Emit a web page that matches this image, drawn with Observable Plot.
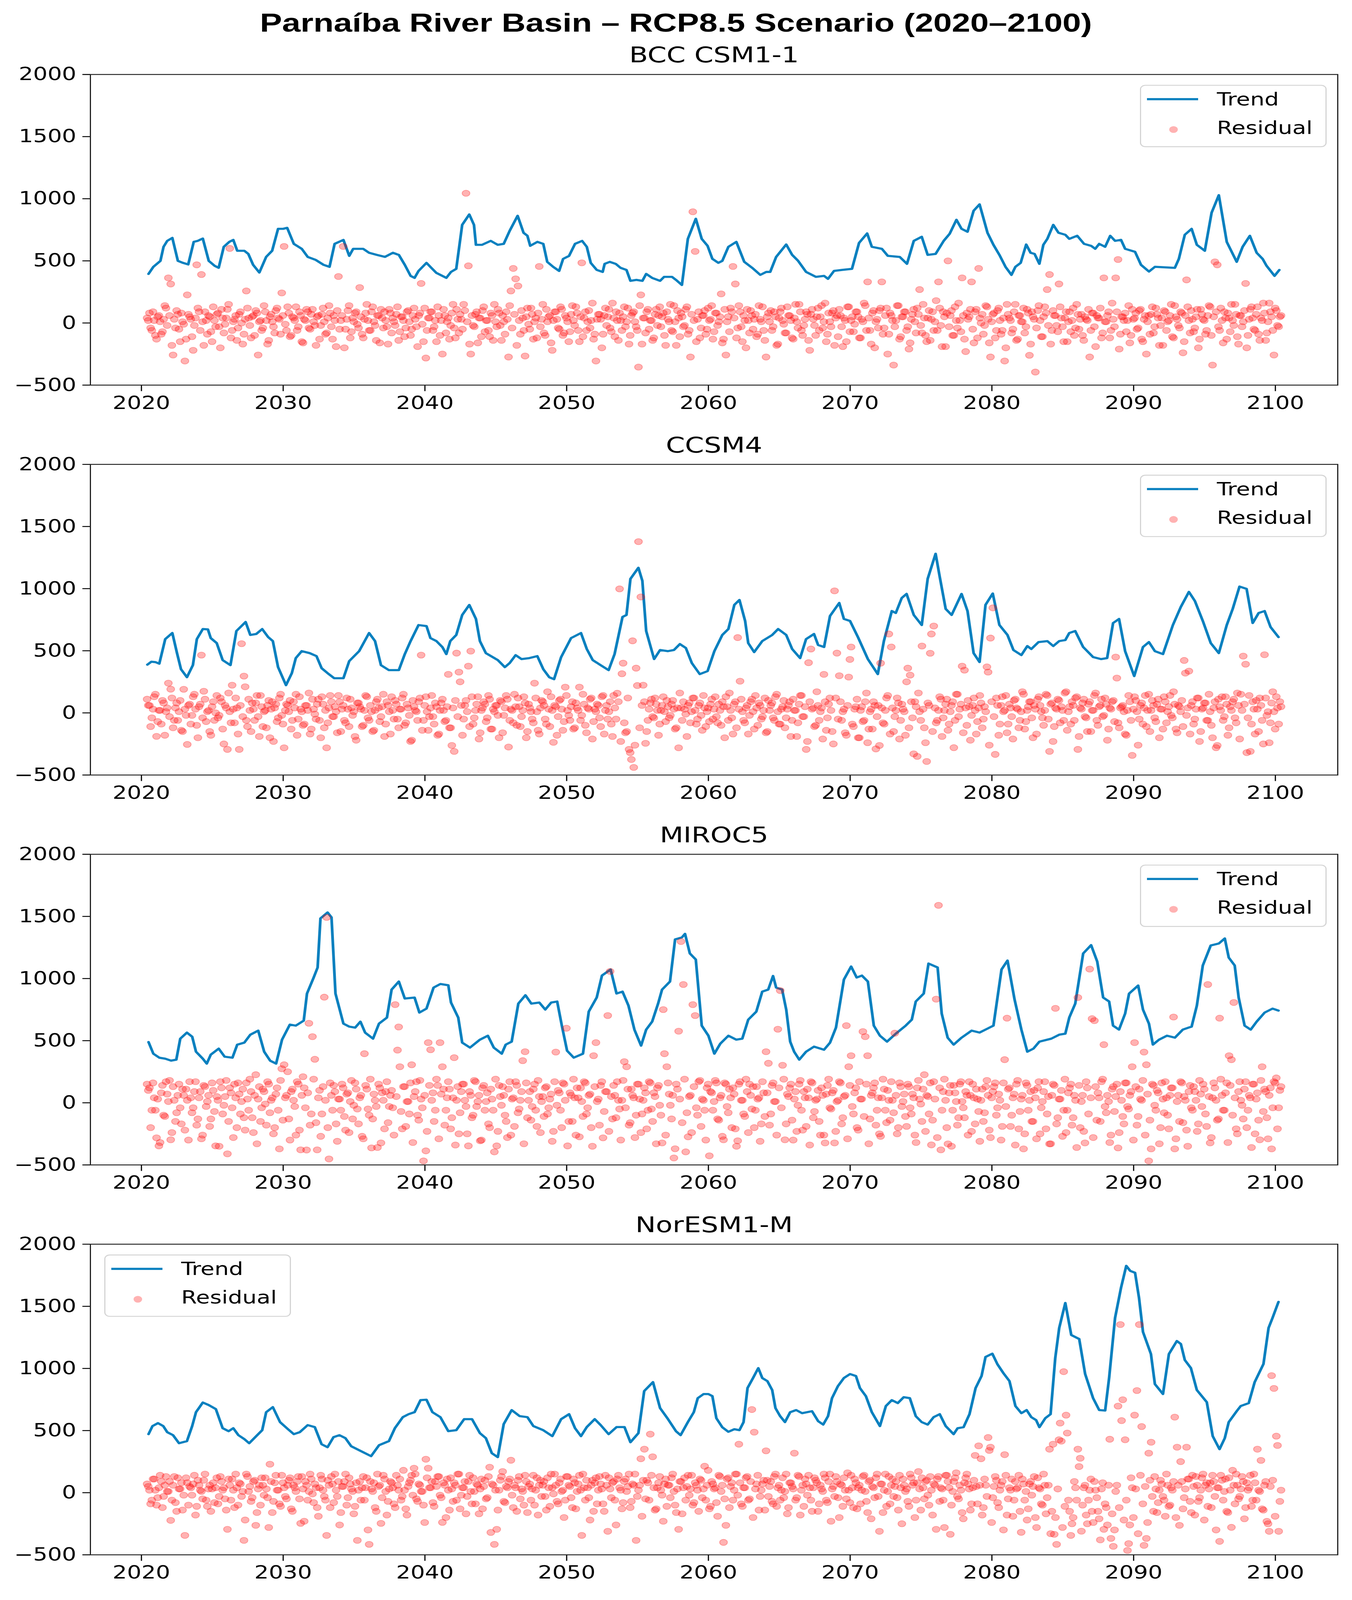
<!DOCTYPE html>
<html><head><meta charset="utf-8">
<script src="https://cdn.jsdelivr.net/npm/d3@7"></script>
<script src="https://cdn.jsdelivr.net/npm/@observablehq/plot@0.6"></script>
<style>
html,body{margin:0;padding:0;background:#fff;overflow:hidden;}
#page{width:3462px;height:5187px;transform-origin:0 0;background:#fff;}
#title{height:131px;box-sizing:border-box;padding-top:28px;text-align:center;font-weight:bold;font-size:85px;font-family:"Liberation Sans",Arial,sans-serif;line-height:90px;color:#000;white-space:nowrap;}
.panel{position:relative;width:3462px;height:1264px;overflow:hidden;}
.panel svg{display:block;max-width:none;}
.legend{position:absolute;width:478px;height:202px;box-sizing:border-box;border:3px solid #d4d4d4;border-radius:14px;background:rgba(255,255,255,0.8);font-family:"DejaVu Sans",sans-serif;font-size:58px;color:#000;}
.legend .ln{position:absolute;left:15px;top:40px;width:131px;height:7px;background:#0a80bf;}
.legend .dt{position:absolute;left:72px;top:131px;width:22px;height:22px;border-radius:50%;background:rgba(255,0,0,0.3);}
.legend .tx{position:absolute;left:194px;line-height:1;transform:translateY(-50%);white-space:nowrap;}
</style></head><body>
<div id="page">
<div id="title">Parnaíba River Basin – RCP8.5 Scenario (2020–2100)</div>
<div id="charts"></div>
</div>
<script>
const models = ["BCC CSM1-1", "CCSM4", "MIROC5", "NorESM1-M"];
const legendSide = ["right", "right", "right", "left"];
const seriesNames = ["Trend", "Residual"];
const xTicks = [2020, 2030, 2040, 2050, 2060, 2070, 2080, 2090, 2100];
const yTicks = [-500, 0, 500, 1000, 1500, 2000];
const residStart = 2020.4;
const residStep = 1 / 6;

const trendBCC = [[2020.50,395],[2020.84,452],[2021.34,500],[2021.56,613],[2021.82,661],[2022.18,685],[2022.57,500],[2022.93,484],[2023.30,471],[2023.69,653],[2023.97,661],[2024.33,680],[2024.75,500],[2025.17,460],[2025.45,444],[2025.81,613],[2026.20,653],[2026.48,669],[2026.76,581],[2027.26,581],[2027.54,556],[2027.88,468],[2028.32,406],[2028.80,532],[2029.22,581],[2029.64,758],[2030.00,758],[2030.28,766],[2030.75,637],[2031.31,597],[2031.73,532],[2032.29,508],[2032.85,468],[2033.27,452],[2033.63,637],[2034.25,669],[2034.66,540],[2034.94,597],[2035.64,597],[2036.06,565],[2036.62,548],[2037.18,532],[2037.74,565],[2038.16,548],[2038.58,468],[2038.99,379],[2039.27,363],[2039.55,419],[2040.11,484],[2040.45,444],[2040.81,403],[2041.51,363],[2041.84,411],[2042.21,436],[2042.63,790],[2043.13,874],[2043.46,790],[2043.60,629],[2044.02,629],[2044.64,661],[2045.14,629],[2045.56,637],[2045.98,742],[2046.54,863],[2046.96,726],[2047.23,702],[2047.43,621],[2047.93,653],[2048.35,637],[2048.63,492],[2049.05,452],[2049.47,419],[2049.75,516],[2050.17,540],[2050.59,637],[2051.09,661],[2051.42,613],[2051.70,484],[2052.12,427],[2052.54,411],[2052.68,476],[2053.04,492],[2053.46,476],[2053.80,444],[2054.22,427],[2054.50,339],[2054.92,347],[2055.34,339],[2055.61,395],[2056.03,363],[2056.59,339],[2056.87,371],[2057.43,371],[2057.71,347],[2058.13,306],[2058.55,677],[2059.11,839],[2059.53,677],[2059.94,621],[2060.28,516],[2060.70,484],[2060.98,500],[2061.41,613],[2061.97,653],[2062.53,492],[2063.09,444],[2063.66,387],[2064.08,411],[2064.36,411],[2064.78,532],[2065.49,632],[2065.91,548],[2066.33,500],[2066.89,411],[2067.59,371],[2068.16,379],[2068.44,355],[2068.86,419],[2069.42,427],[2070.13,436],[2070.63,645],[2071.20,721],[2071.53,613],[2072.24,597],[2072.66,540],[2073.50,532],[2074.01,476],[2074.49,661],[2075.05,694],[2075.47,548],[2076.03,556],[2076.60,661],[2077.02,718],[2077.50,831],[2077.86,758],[2078.28,734],[2078.71,903],[2079.13,955],[2079.69,726],[2080.11,629],[2080.53,548],[2080.96,452],[2081.38,387],[2081.66,452],[2082.03,484],[2082.42,632],[2082.73,565],[2083.01,556],[2083.35,476],[2083.63,629],[2083.91,677],[2084.33,790],[2084.70,726],[2085.18,710],[2085.46,677],[2086.02,702],[2086.50,637],[2087.00,621],[2087.29,597],[2087.57,637],[2087.99,613],[2088.35,702],[2088.69,661],[2089.11,669],[2089.40,597],[2090.10,573],[2090.52,468],[2091.08,414],[2091.50,452],[2092.91,444],[2093.19,516],[2093.61,710],[2094.09,758],[2094.46,629],[2095.02,581],[2095.50,887],[2096.01,1029],[2096.57,653],[2097.27,492],[2097.69,613],[2098.20,702],[2098.68,565],[2099.10,516],[2099.38,460],[2099.94,379],[2100.28,427]];

const trendCCSM4 = [[2020.42,388],[2020.70,412],[2020.98,409],[2021.26,396],[2021.68,594],[2022.18,643],[2022.51,481],[2022.79,352],[2023.21,287],[2023.63,384],[2023.91,594],[2024.33,675],[2024.69,672],[2024.89,602],[2025.31,562],[2025.73,425],[2026.28,384],[2026.70,659],[2027.35,732],[2027.68,627],[2028.10,635],[2028.52,675],[2028.94,610],[2029.27,578],[2029.64,368],[2030.20,223],[2030.61,320],[2030.89,441],[2031.31,497],[2031.87,481],[2032.35,457],[2032.71,360],[2033.13,320],[2033.60,279],[2034.25,279],[2034.66,417],[2035.36,497],[2036.06,643],[2036.48,578],[2036.90,384],[2037.46,344],[2038.16,344],[2038.58,473],[2038.99,578],[2039.55,707],[2040.11,699],[2040.39,602],[2040.81,578],[2041.23,530],[2041.51,473],[2041.79,578],[2042.21,627],[2042.63,788],[2043.13,869],[2043.60,756],[2043.88,578],[2044.30,481],[2045.14,425],[2045.64,368],[2045.98,401],[2046.40,465],[2046.82,433],[2047.37,441],[2047.93,457],[2048.35,352],[2048.77,287],[2049.11,271],[2049.61,449],[2050.31,602],[2051.01,643],[2051.42,514],[2051.84,425],[2052.40,384],[2052.96,344],[2053.38,473],[2053.94,772],[2054.22,788],[2054.50,1079],[2055.06,1168],[2055.34,1063],[2055.61,659],[2056.17,433],[2056.59,506],[2057.15,497],[2057.57,506],[2057.99,554],[2058.41,522],[2058.83,401],[2059.39,312],[2059.94,336],[2060.42,497],[2060.98,627],[2061.41,675],[2061.83,869],[2062.19,909],[2062.59,740],[2062.81,562],[2063.23,489],[2063.80,578],[2064.50,627],[2064.92,675],[2065.49,627],[2065.91,514],[2066.47,441],[2066.89,594],[2067.45,635],[2067.74,546],[2068.16,530],[2068.58,780],[2069.23,885],[2069.56,756],[2069.99,740],[2070.55,610],[2071.25,433],[2071.95,312],[2072.38,578],[2072.94,820],[2073.22,804],[2073.64,925],[2073.98,958],[2074.49,788],[2075.05,707],[2075.47,1079],[2076.03,1281],[2076.32,1095],[2076.74,837],[2077.16,788],[2077.86,958],[2078.28,820],[2078.71,481],[2079.13,409],[2079.55,869],[2080.06,961],[2080.53,707],[2081.10,627],[2081.52,506],[2082.08,465],[2082.50,538],[2082.78,514],[2083.29,570],[2083.91,578],[2084.33,538],[2084.75,578],[2085.18,586],[2085.46,643],[2085.88,659],[2086.44,530],[2087.14,449],[2087.71,433],[2088.13,441],[2088.55,723],[2088.97,756],[2089.40,497],[2090.04,296],[2090.66,530],[2091.08,570],[2091.50,497],[2092.07,473],[2092.77,707],[2093.33,853],[2093.90,974],[2094.32,901],[2094.88,740],[2095.44,562],[2096.01,481],[2096.57,707],[2096.99,837],[2097.47,1017],[2097.97,998],[2098.40,723],[2098.82,804],[2099.24,820],[2099.66,691],[2100.22,610]];

const trendMIROC5 = [[2020.50,489],[2020.84,395],[2021.26,363],[2021.68,355],[2022.09,339],[2022.46,347],[2022.74,516],[2023.21,565],[2023.58,532],[2023.85,411],[2024.33,355],[2024.61,315],[2024.89,387],[2025.45,436],[2025.87,371],[2026.42,363],[2026.76,468],[2027.26,484],[2027.68,548],[2028.24,581],[2028.66,411],[2029.08,339],[2029.50,315],[2029.92,508],[2030.47,629],[2030.89,621],[2031.45,661],[2031.68,879],[2032.15,1008],[2032.43,1089],[2032.63,1484],[2033.13,1532],[2033.41,1492],[2033.69,879],[2034.25,637],[2034.66,613],[2035.08,605],[2035.45,653],[2035.78,565],[2036.34,516],[2036.76,637],[2037.32,686],[2037.65,911],[2038.16,976],[2038.58,839],[2039.27,847],[2039.61,726],[2040.11,758],[2040.61,927],[2041.09,956],[2041.65,946],[2041.84,807],[2042.35,686],[2042.63,484],[2043.18,444],[2043.88,508],[2044.44,540],[2044.86,444],[2045.42,395],[2045.70,468],[2046.12,492],[2046.59,798],[2047.09,866],[2047.51,798],[2048.07,807],[2048.49,750],[2048.91,807],[2049.33,815],[2049.66,621],[2050.03,419],[2050.50,363],[2051.15,395],[2051.56,734],[2052.12,847],[2052.49,1024],[2053.10,1073],[2053.52,879],[2053.94,895],[2054.36,782],[2054.78,589],[2055.25,460],[2055.61,589],[2056.03,653],[2056.45,798],[2056.73,911],[2057.29,976],[2057.65,1315],[2058.13,1331],[2058.35,1360],[2058.69,1202],[2059.11,1153],[2059.53,621],[2060.00,540],[2060.42,395],[2060.84,476],[2061.41,540],[2061.97,508],[2062.39,516],[2062.81,669],[2063.38,734],[2063.80,895],[2064.22,911],[2064.56,1021],[2064.78,927],[2065.20,911],[2065.49,750],[2065.77,492],[2066.05,411],[2066.41,347],[2066.89,411],[2067.45,452],[2068.16,427],[2068.58,484],[2069.00,605],[2069.56,992],[2070.07,1097],[2070.46,1008],[2070.83,1024],[2071.25,976],[2071.67,621],[2072.10,540],[2072.60,492],[2073.22,556],[2073.92,621],[2074.35,669],[2074.63,815],[2075.19,879],[2075.53,1121],[2076.17,1089],[2076.46,718],[2076.88,524],[2077.30,468],[2077.86,524],[2078.57,581],[2079.13,565],[2079.69,597],[2080.11,621],[2080.68,1073],[2081.10,1145],[2081.60,831],[2082.08,589],[2082.50,411],[2082.93,436],[2083.35,492],[2084.19,516],[2084.75,548],[2085.18,556],[2085.46,686],[2085.88,798],[2086.44,1202],[2087.00,1269],[2087.43,1137],[2087.85,847],[2088.27,815],[2088.55,621],[2088.97,589],[2089.40,718],[2089.68,879],[2090.32,944],[2090.66,750],[2091.08,637],[2091.36,468],[2091.79,508],[2092.35,540],[2092.91,524],[2093.47,589],[2094.09,613],[2094.46,782],[2094.88,1105],[2095.44,1266],[2096.01,1282],[2096.43,1323],[2096.71,1169],[2097.13,1105],[2097.41,847],[2097.83,621],[2098.26,589],[2098.68,653],[2099.24,726],[2099.80,758],[2100.22,742]];

const trendNorESM = [[2020.50,471],[2020.78,536],[2021.17,560],[2021.54,536],[2021.82,487],[2022.23,463],[2022.65,398],[2023.21,415],[2023.58,536],[2023.85,648],[2024.33,726],[2024.75,705],[2025.25,673],[2025.73,519],[2026.15,495],[2026.48,519],[2026.84,463],[2027.26,431],[2027.60,398],[2028.10,455],[2028.52,503],[2028.80,648],[2029.27,689],[2029.78,568],[2030.34,511],[2030.75,471],[2031.17,487],[2031.73,544],[2032.23,528],[2032.71,390],[2033.13,366],[2033.55,447],[2033.97,463],[2034.39,439],[2034.80,374],[2035.64,326],[2036.20,294],[2036.76,382],[2037.46,415],[2037.88,519],[2038.44,608],[2038.85,632],[2039.27,648],[2039.69,745],[2040.11,748],[2040.53,648],[2041.09,608],[2041.65,495],[2042.21,503],[2042.77,592],[2043.32,592],[2043.88,479],[2044.30,439],[2044.72,318],[2045.14,286],[2045.56,552],[2046.12,665],[2046.68,616],[2047.23,608],[2047.65,536],[2048.35,503],[2048.99,455],[2049.61,592],[2050.17,632],[2050.59,519],[2051.01,455],[2051.42,528],[2051.98,592],[2052.40,544],[2052.96,471],[2053.52,528],[2054.08,528],[2054.50,406],[2055.06,479],[2055.47,818],[2056.09,890],[2056.59,681],[2057.15,592],[2057.71,495],[2058.04,463],[2058.55,568],[2058.97,648],[2059.25,761],[2059.66,794],[2060.00,794],[2060.28,777],[2060.56,600],[2060.98,527],[2061.41,490],[2061.83,511],[2062.19,503],[2062.48,568],[2062.76,842],[2063.15,923],[2063.52,1003],[2063.80,923],[2064.16,898],[2064.50,826],[2064.73,681],[2065.06,616],[2065.40,568],[2065.77,648],[2066.19,665],[2066.61,640],[2067.31,656],[2067.74,576],[2068.10,548],[2068.44,616],[2068.72,761],[2069.14,858],[2069.56,923],[2069.99,955],[2070.41,939],[2070.69,842],[2071.11,777],[2071.53,648],[2072.10,536],[2072.52,697],[2072.94,745],[2073.36,721],[2073.78,769],[2074.21,761],[2074.63,616],[2075.05,568],[2075.47,548],[2075.89,608],[2076.32,632],[2076.74,536],[2077.30,471],[2077.58,519],[2078.00,527],[2078.42,632],[2078.85,842],[2079.27,939],[2079.55,1092],[2080.03,1119],[2080.39,1034],[2080.82,961],[2081.24,898],[2081.66,697],[2082.08,640],[2082.45,665],[2082.78,608],[2083.12,584],[2083.35,527],[2083.77,600],[2084.14,632],[2084.47,1084],[2084.75,1326],[2085.18,1527],[2085.60,1269],[2086.16,1237],[2086.58,955],[2087.14,761],[2087.57,665],[2087.99,661],[2088.27,923],[2088.69,1407],[2089.11,1649],[2089.48,1826],[2089.76,1785],[2090.10,1770],[2090.38,1568],[2090.66,1294],[2091.22,1116],[2091.50,874],[2092.07,794],[2092.49,1116],[2093.05,1221],[2093.33,1197],[2093.61,1068],[2094.04,1003],[2094.46,826],[2095.16,729],[2095.58,455],[2096.06,350],[2096.43,439],[2096.71,568],[2097.27,656],[2097.55,697],[2098.12,721],[2098.54,890],[2099.16,1036],[2099.52,1326],[2099.80,1407],[2100.22,1536]];

// residuals, even months (start residStart, every 2 months)
const residBCC = [40,80,-60,20,-130,60,-90,30,120,363,314,-258,-40,70,-150,10,-306,226,50,-110,-20,468,90,390,-180,20,60,-70,130,-30,80,-200,40,-10,110,600,-60,30,-140,70,0,-90,258,40,-120,60,100,-258,20,-40,90,-170,50,10,-80,120,30,242,616,-60,
80,-100,40,130,-30,60,-160,20,90,-50,110,-20,50,-130,70,10,-80,140,-30,60,-190,374,20,616,-50,100,-120,40,80,-10,285,-90,30,150,-60,90,10,-140,60,110,-40,20,-170,80,40,-20,130,-70,50,-110,90,10,-50,120,-30,60,318,-150,-282,40,
90,-60,20,130,-100,-250,60,10,-130,80,-40,110,-80,30,150,1044,460,-250,-20,70,-160,40,100,-70,20,-110,60,150,-30,80,-140,10,90,-274,258,439,355,298,-90,40,-266,120,-50,70,10,-120,455,30,-80,110,50,-160,20,90,-40,130,-100,60,10,-70,
140,-20,80,-150,484,40,-60,100,20,-130,-306,70,30,-90,120,50,-40,160,-110,20,80,-60,130,10,-170,60,90,-30,-355,226,40,-80,110,20,-140,70,-20,130,50,-100,90,10,-60,140,-180,40,80,-30,110,-90,-274,895,576,30,-120,60,100,-50,20,140,
-70,80,10,234,-130,-258,50,120,455,314,-40,90,-150,20,110,-80,60,30,-110,140,10,-60,-274,80,100,-30,50,-170,90,20,-80,130,60,-120,40,10,150,-60,-20,90,-140,70,30,-100,120,50,-40,160,-90,10,80,-180,60,110,-30,40,-150,130,20,-70,
90,50,-120,10,140,331,-60,80,-200,30,100,331,-40,120,-90,60,-339,20,140,-110,50,90,-30,-160,70,10,120,269,-80,40,-150,100,30,-60,180,331,-20,90,-190,500,60,-100,130,-40,20,363,-130,80,50,331,-160,110,439,0,-90,140,30,-274,70,-120,
100,20,-60,-306,150,40,-80,90,-140,60,10,120,-30,80,-170,50,-395,100,20,-110,130,269,390,-60,60,-20,314,40,-150,90,10,-70,120,-40,70,30,-100,50,20,-274,80,-30,60,40,-120,363,10,90,-60,30,363,511,-90,50,80,20,-160,110,40,-50,
100,-130,30,-250,60,70,-80,120,40,-20,-180,90,10,60,-110,140,30,-40,80,-150,347,20,100,-70,50,-200,110,30,-90,60,130,-339,492,468,-60,20,90,-130,40,150,-20,70,-170,60,10,318,-100,110,40,-60,130,-140,20,80,-80,160,50,-258,100,-30,
60];

const residCCSM4 = [110,60,-40,130,-189,20,-90,80,10,239,191,-120,40,-60,100,-150,30,-254,70,-20,150,-100,50,465,174,-70,20,-180,90,0,-40,120,-130,60,-294,10,223,-80,40,-294,557,296,-60,110,-150,30,80,-30,140,-110,20,60,-200,90,40,-70,120,-20,-281,70,
10,-130,90,150,-50,30,-100,60,20,-170,110,-10,70,-60,130,-120,-281,40,90,-30,10,140,-150,60,-80,30,110,-20,-190,80,50,-110,20,130,-60,10,-140,90,40,-30,150,-90,60,-170,20,100,-50,30,120,-100,70,-20,-220,50,10,90,465,-60,130,-140,
40,-30,80,-180,20,110,-70,50,-120,-262,-310,481,328,60,-50,100,376,497,-90,20,130,-160,40,70,-40,110,-130,10,60,-200,90,-20,140,-275,30,-80,50,120,-110,20,80,-150,40,-50,239,10,-170,100,60,-90,30,130,-237,50,-30,110,-140,207,20,-60,
90,-120,40,207,-20,70,-160,30,120,-70,10,60,-110,140,20,-50,90,-190,40,158,998,315,-80,-150,-294,-375,-439,360,1378,933,223,-245,-60,80,-30,120,20,-90,60,10,100,-40,70,30,-120,-281,40,90,-10,60,-80,120,20,-50,80,-140,40,10,-70,110,
30,-30,70,-100,50,130,-60,20,-170,90,606,255,10,-80,60,-20,110,-130,40,80,-50,20,-160,100,60,-40,130,10,-90,50,-120,30,90,-60,20,-190,70,140,-30,-294,404,514,40,-100,60,10,-210,90,-40,120,-150,982,481,299,-60,30,-180,288,530,-110,
50,-200,20,-70,90,-240,10,-130,60,-30,-262,40,-90,120,635,530,-150,20,80,-60,30,-180,360,304,-40,90,-350,10,538,-120,-391,60,635,699,-80,20,110,-40,70,-140,10,90,-60,150,30,376,344,-100,50,-20,120,-170,40,80,-50,10,328,602,845,-334,
60,-90,130,20,-160,70,-30,100,40,-120,10,150,-70,50,90,-200,30,110,60,-40,20,140,-310,80,-110,30,100,50,-60,170,10,-90,60,120,-294,40,80,-30,-150,90,20,140,-60,50,110,-20,70,-130,30,100,449,-80,40,60,-170,20,90,-342,130,10,
-50,80,40,-110,150,20,60,-70,110,30,-130,90,10,140,-40,70,-160,50,100,422,-20,336,60,-90,30,120,-150,40,80,-60,10,-200,90,-262,50,130,-30,70,-120,20,110,-80,60,150,457,392,-40,-310,90,-170,30,120,-60,468,-20,-240,80,10,130,-90,
50];

const residMIROC5 = [150,120,-60,40,-282,-347,80,-100,170,10,-298,130,-150,60,-40,110,-220,20,170,-80,90,-180,40,-290,140,-30,60,-130,100,-347,20,170,-90,50,-411,120,-40,150,-200,70,10,-120,160,-60,90,-240,226,30,-150,110,-10,170,-80,40,-200,120,-371,274,306,60,
-130,90,20,-260,150,-379,210,-40,80,-180,532,350,-379,100,-90,850,1492,-452,60,140,-170,30,-60,120,-220,80,10,-130,160,-50,40,-270,395,110,-100,-363,70,-30,150,-323,20,90,-160,60,-40,790,424,290,-210,130,10,-90,306,50,170,-140,30,-468,-387,484,
427,80,-60,140,484,290,-180,40,110,-120,363,20,-250,90,150,-30,-347,60,-100,170,10,-306,120,-60,80,-200,30,-395,-347,140,-20,60,-150,110,-260,40,170,-80,20,339,411,-120,90,-30,150,-190,50,10,-110,130,-40,70,-230,408,100,-60,160,20,-347,80,
-150,40,120,-274,10,170,-90,60,-200,379,484,30,140,-282,90,702,1057,-130,60,170,-50,20,331,290,-180,110,40,-100,150,-240,20,80,-60,160,-150,50,120,-20,-323,395,290,70,-130,-444,150,576,1298,952,-395,-274,60,790,702,-100,180,30,-60,120,-427,80,
10,160,-140,60,-298,150,-80,40,120,-210,-306,170,20,-110,90,150,-50,-200,130,40,-170,80,411,318,-90,160,10,592,903,302,-298,70,120,-140,30,-230,150,-60,90,-190,40,170,-120,20,100,-260,60,-323,140,-40,80,-323,10,170,-170,50,621,290,379,-90,
120,-220,30,573,532,379,-130,80,160,-60,-250,40,110,-160,20,170,-80,60,-200,130,10,-110,150,-40,70,-260,120,30,-150,226,60,-90,-339,170,834,1589,-379,90,20,-331,140,-60,80,-180,150,10,-120,60,170,-230,40,110,-70,20,-150,130,60,-280,90,160,
-40,20,-190,347,681,120,-100,70,150,-210,30,-371,160,-60,90,-150,40,120,-250,10,170,-90,-331,60,140,-170,30,100,-60,-240,80,150,-120,20,847,-200,60,-323,120,1076,677,661,-140,40,170,468,-80,10,-260,130,50,-363,90,-110,160,-30,60,290,484,-180,
110,20,408,306,-468,-371,140,-60,80,-200,30,170,-100,60,120,-371,10,-150,160,50,-220,90,-40,130,20,-170,70,150,-90,952,-323,40,120,-140,681,60,-60,160,379,347,807,-210,90,20,-130,170,-60,40,150,-250,80,-298,290,110,-120,60,-371,170,200,-40,
130];

const residNorESM = [70,20,-60,110,-100,40,90,-30,130,10,-223,60,-80,120,30,-140,-344,80,50,-20,140,-110,60,10,100,-60,30,-150,80,40,-90,130,20,-50,-295,60,110,-120,40,80,-30,-384,150,10,-70,90,-263,30,-100,60,120,-40,229,-160,80,20,-90,140,40,-50,
100,-130,60,10,130,-247,30,90,-60,150,-10,70,-120,40,110,-30,-344,60,130,-80,20,90,-160,50,150,-40,70,10,-110,-384,90,40,-60,120,-416,30,80,-150,50,-247,140,10,-70,90,40,-120,60,110,-30,20,-180,80,140,197,-50,70,10,-100,269,197,
40,-80,90,130,-20,-239,60,110,-140,30,80,-60,150,-20,40,-170,90,10,120,-90,60,30,-130,100,-40,205,70,-416,-295,20,130,-70,50,90,261,-120,40,100,-50,10,140,-160,70,30,-100,120,60,-30,90,-140,40,150,-10,60,-90,110,20,-60,130,50,
-120,80,10,140,-344,40,100,-40,60,-150,120,20,70,-90,140,-311,30,80,-60,110,40,-130,90,10,150,-70,60,-384,20,273,100,-50,80,471,289,-140,40,130,-20,70,-110,60,120,10,-160,-295,90,40,-60,140,30,-100,80,20,110,-40,213,60,-130,90,
30,-80,140,10,-400,-263,120,50,-60,150,-20,80,-110,40,130,-50,669,487,70,-140,20,100,337,-30,90,-90,150,40,-60,120,10,-170,80,50,318,-40,130,20,-110,70,140,-60,40,100,-150,60,10,120,-80,150,30,-30,90,-200,60,120,-50,20,140,-120,
80,40,-90,130,10,-160,100,50,-40,150,-311,70,20,-110,130,60,-30,90,-140,40,110,10,-70,150,60,-200,80,30,120,-50,100,-100,20,70,-295,130,40,-60,140,90,-335,10,120,-30,60,-160,80,150,30,-90,100,50,377,273,-120,60,444,366,-40,130,
-80,20,90,306,-180,40,110,-60,30,140,-319,70,10,-130,90,50,-200,120,30,-100,60,-40,350,-150,-335,-416,426,415,974,624,-60,-344,-200,40,350,277,-100,60,-250,20,-150,90,-40,-210,30,-295,-120,60,-368,-432,10,697,1353,748,426,-465,-260,40,624,822,
1353,532,-424,-368,318,406,-150,30,-80,100,-30,-190,60,-100,20,608,366,-263,90,-40,366,110,-160,50,130,-70,20,150,60,-110,80,140,-30,40,-392,100,10,-150,120,-279,60,150,-50,30,90,-120,20,140,-60,80,350,10,-130,60,-231,-311,942,839,455,-311,
20];

// residuals, odd months (start residStart + 1 month, every 2 months)
const residBCCOdd = [20,-40,90,-100,50,10,-70,140,-20,60,-180,30,100,-50,80,-10,-130,70,30,-220,40,120,-60,10,90,-90,50,-150,20,70,
-30,110,-80,40,150,-120,10,60,-40,90,-170,30,120,-20,50,-100,80,10,-60,140,20,-140,70,-30,100,40,-90,60,-10,130,
-110,50,20,-60,90,-150,30,110,-40,70,10,-180,60,-20,120,-90,40,80,-130,20,100,-50,60,-200,30,140,-70,10,90,-40,
50,-120,80,20,-60,130,-20,60,-160,40,90,-30,110,-80,10,70,-140,50,20,-40,100,-100,60,30,-190,80,-10,120,-60,40,
90,-30,-150,60,20,110,-80,40,-20,150,-120,30,70,-50,100,10,-170,60,-30,90,40,-110,130,20,-60,80,-140,10,110,-20,
60,-90,30,140,-40,70,-180,20,100,-60,50,-10,120,-130,40,80,-30,150,-100,10,60,-220,90,30,-50,110,-80,40,-150,70,
20,130,-60,50,-110,90,10,-40,160,-90,30,70,-200,60,-20,110,-70,40,90,-140,20,50,-30,120,-100,80,10,-60,140,-170,
40,90,-50,20,-120,110,60,-30,80,-180,30,150,-70,10,100,-110,50,-20,130,-60,70,20,-150,90,-40,60,-90,120,30,-130,
80,-20,50,-160,110,10,-70,90,40,-120,140,-30,60,-200,20,100,-50,70,-90,30,130,-140,50,10,-60,90,-180,40,120,-10,
-80,60,20,-130,150,-40,90,-100,30,70,-220,110,-20,50,-60,140,10,-150,80,-30,100,40,-110,60,-190,20,130,-70,50,-10,
90,-120,30,160,-60,40,-170,100,10,-40,120,-90,60,-250,80,20,-30,140,-130,50,90,-60,-210,30,110,-80,70,-20,150,-100,
40,-140,90,10,-60,120,-190,50,80,-30,100,-100,20,160,-70,60,-230,30,110,-50,90,-120,40,70,-20,130,-160,10,80,-60,
120,-90,40,-200,70,20,-50,150,-130,60,10,-80,110,-260,90,30,-40,140,-110,50,80,-20,-170,100,60,-70,130,-30,40,-150,
90,20,-100,150,-50,70,-140,30,110,-60,80,-190,40,120,-80,10,60,-120,160,-30,90,-210,50,20,-70,140,-100,30,80,-40,
110,-150,60,10,-90,130,-30,70,-180,40,100,-60,20,150,-120,50,-20,90,-240,60,130,-80,30,-40,110,-130,70,20,-60,140,
-100,50,90,-30,120,-160,40,80,-70,20,150,-110,60,-30,100,-200,30,130,-50,70,-90,40,160,-140,10,90,-60,120,-20,50];

const residCCSM4Odd = [60,-110,30,150,-70,20,100,-180,40,-30,120,-60,80,10,-140,190,-20,60,-90,130,30,-200,70,-40,110,10,-150,50,-60,140,
-20,90,-250,40,160,-80,30,120,-170,60,-30,210,-110,20,80,-60,140,-190,50,10,-120,100,30,-230,70,-40,150,-90,20,60,
100,-60,40,-180,130,10,-90,60,160,-130,30,-50,110,-200,70,20,-80,140,-30,50,-160,90,30,-60,120,-110,40,10,-220,80,
30,-100,140,-40,60,-150,20,110,-70,50,-190,90,10,130,-50,70,-120,30,150,-80,40,-230,100,20,-60,120,-140,60,10,-30,
140,-90,50,-170,80,20,-60,310,-120,40,100,-30,250,-180,60,10,-110,130,-40,70,-210,20,90,-70,140,-130,30,60,-20,100,
-160,40,110,-60,20,150,-100,50,-30,130,-200,70,10,-80,120,-140,40,90,-50,170,-110,20,60,-180,100,30,-70,140,-20,50,
-130,80,20,-60,150,-100,40,110,-210,30,70,-40,130,-170,60,10,-90,140,-50,90,-230,400,-160,120,-320,580,-260,220,-120,60,
90,-150,30,110,-40,70,-180,20,130,-70,50,-20,100,-130,40,160,-60,30,-190,80,10,120,-90,60,-20,140,-110,40,70,-50,
130,-80,20,90,-200,50,160,-40,70,-120,30,110,-60,40,-170,90,10,140,-100,60,-30,120,-150,20,80,-60,150,-90,30,100,
-40,60,-190,110,20,-80,140,-30,50,-230,90,30,-110,170,-60,40,310,-140,70,20,-250,120,-50,90,10,-160,60,430,-90,30,
110,-200,50,-60,160,-130,30,90,-290,60,400,-80,20,140,-170,40,-30,120,-210,70,10,250,-120,90,-330,50,160,-60,30,-240,
80,480,-150,40,-60,130,-190,20,110,-90,60,-280,150,-30,70,-160,40,100,-220,60,20,-70,140,-120,50,370,-260,90,-30,120,
-180,60,10,140,-90,40,-210,110,30,-60,170,-130,20,90,-40,60,-170,130,10,-100,150,-50,70,-230,40,110,-80,20,160,-140,
50,90,-60,130,-190,30,110,-40,70,-150,20,160,-100,60,-30,120,-220,40,90,-70,280,-120,50,10,-180,140,-60,30,100,-260,
60,-90,140,20,-150,100,-40,70,-200,30,130,-80,50,-20,170,-130,60,10,-110,320,40,-170,90,-50,120,-230,30,80,-60,150,
-100,40,-280,110,20,-60,130,-180,50,90,-40,160,-210,20,70,-320,140,-90,30,100,-150,60,-250,120,10,-80,170,-130,40,90];

const residMIROC5Odd = [100,-200,160,-60,30,-320,140,-110,70,180,-240,20,-80,150,-170,60,110,-300,40,-40,170,-130,90,-260,130,10,-190,160,-70,50,
-350,120,-20,180,-150,80,-280,40,160,-90,110,-220,30,190,-120,60,-330,130,-40,90,-180,150,20,-250,70,-60,180,-140,40,250,
-300,110,-30,170,-220,60,120,-380,640,-90,190,-160,40,-270,130,20,-200,160,-60,90,-310,30,150,-110,70,-240,180,-20,110,-170,
60,-290,140,-50,190,-130,20,-360,120,80,-210,170,-30,100,-260,50,610,-70,130,-190,10,160,-320,90,-100,180,-40,60,-230,140,
20,-150,190,-290,70,110,-60,170,-210,40,-340,130,-80,150,20,-250,90,-120,180,-30,60,-300,140,10,-170,110,-60,190,-230,50,
130,-100,-280,170,30,-190,140,-50,90,-330,160,20,-140,110,-60,180,-240,50,120,-90,30,-310,170,-20,80,-200,150,600,-150,60,
190,-260,40,120,-110,160,-40,70,-350,130,10,-180,170,-70,90,-230,50,140,-120,20,-300,180,-40,110,-160,60,-280,150,30,-90,
120,-210,170,-50,80,-330,140,-100,750,-260,160,-20,60,-370,110,30,-160,190,-80,50,-240,130,-40,170,-190,20,-300,150,90,-60,
180,-130,40,-270,160,-30,110,-200,70,-350,150,20,-90,190,-240,60,130,-60,30,-310,170,-110,80,-180,140,10,-260,120,-40,190,
-170,50,150,-300,90,-20,180,-220,40,110,-340,160,-70,30,-150,120,-260,70,190,-50,100,-230,20,160,-120,60,-290,140,-30,80,
-200,170,30,-110,150,-330,60,120,-180,40,-270,190,-60,100,-140,20,560,-250,160,-30,70,-190,130,-90,40,-320,180,-10,110,-230,
50,160,-140,30,-280,120,-60,190,-200,80,-350,140,10,-120,170,-40,90,-260,60,150,-170,30,-310,110,-80,180,-220,40,130,-100,
70,-300,160,-30,110,-190,40,-340,180,-70,60,-250,140,20,-150,100,-290,170,-40,90,-210,50,-330,150,760,-120,30,-270,190,-60,
120,-180,60,-360,140,10,-230,170,-90,40,-280,130,80,-150,190,-30,60,-320,110,-70,150,-240,20,-170,160,-50,90,-300,130,-110,
30,180,-260,70,-140,150,-20,100,-330,160,-80,40,-210,120,690,-290,60,170,-160,20,-350,140,-60,90,-230,180,-30,110,-190,50,
-280,160,20,-130,190,-60,80,-320,140,-100,40,-250,170,-20,110,-200,60,-360,150,30,-140,180,-70,90,-290,120,-40,160,-210,100];

const residNorESMOdd = [50,-90,110,20,-40,140,-120,60,10,90,-60,130,-150,30,80,-20,120,-100,40,70,-180,100,20,-50,150,-110,60,30,-80,120,
-30,90,40,-140,110,-60,20,150,-100,70,10,-220,130,50,-40,100,-160,60,120,-20,30,-280,90,-70,140,20,-110,80,-30,60,
120,-150,40,90,-50,130,-230,60,10,110,-80,40,-190,140,20,-60,100,-120,70,150,-30,-260,50,90,-100,120,30,-170,80,20,
-60,130,40,-300,90,10,-120,150,60,-40,110,-180,30,80,-90,140,20,-60,180,-130,50,100,-20,150,-70,60,10,-240,120,40,
90,-110,50,130,-40,80,-200,20,120,-70,60,150,-130,40,90,-30,140,-90,10,70,-170,110,50,-50,130,-320,60,20,-140,100,
170,-80,40,110,-20,60,-150,130,30,-100,90,50,-60,140,20,-180,100,60,-30,120,-110,40,150,-70,80,10,-200,130,60,-40,
110,-130,70,20,150,-60,40,-220,100,80,-90,130,30,-150,60,120,-40,90,-260,140,20,-80,110,50,-120,70,150,-30,60,-190,
350,100,-60,140,40,-130,80,20,-230,110,60,-40,150,-100,30,90,-170,120,50,-20,140,-80,60,-150,100,30,-60,180,-110,70,
40,-190,130,60,-50,110,-120,80,20,150,390,-90,40,120,-60,90,-200,30,140,-30,70,-140,100,50,-70,130,-110,60,20,-40,
150,-120,80,30,-60,140,-180,60,110,-20,40,-150,120,80,-90,30,150,-60,90,-230,50,130,-40,70,-110,20,160,-80,40,110,
-130,60,20,140,-70,90,-210,40,120,-30,70,-160,150,10,-90,110,50,-40,140,-250,60,30,-110,120,80,-60,170,-140,40,90,
-20,130,-180,60,110,-70,30,-280,140,40,-100,90,160,-50,20,-210,120,70,-140,40,300,-90,60,-180,110,-30,340,-240,50,100,
-120,60,-300,140,-50,20,-190,90,40,-150,110,-60,-220,70,-20,130,-280,40,-90,150,-170,60,-330,390,-200,30,560,-280,-110,480,
-150,-250,90,-60,210,-310,40,-180,-60,110,-240,20,-150,-380,80,-90,-260,430,-170,-300,60,-120,580,-220,-60,-410,120,-200,30,-330,
140,-90,50,-240,100,-30,130,-160,20,70,-60,150,-110,40,90,-200,60,250,-130,30,110,-70,140,-180,60,-40,120,-220,80,30,
-120,90,-300,40,140,-60,110,-160,20,180,-90,60,-30,130,-210,80,40,-110,150,-60,20,260,-140,90,-250,50,100,-190,380,-70];

const trends = [trendBCC, trendCCSM4, trendMIROC5, trendNorESM];
const residsEven = [residBCC, residCCSM4, residMIROC5, residNorESM];
const residsOdd = [residBCCOdd, residCCSM4Odd, residMIROC5Odd, residNorESMOdd];

const blue = "#0a80bf";
const fmtY = d => d < 0 ? "\u2212" + Math.abs(d) : String(d);
const charts = document.getElementById("charts");

models.forEach((name, k) => {
  const tr = trends[k].map(([x, y]) => ({x, y}));
  const rs = residsEven[k].map((y, i) => ({x: residStart + i * residStep, y}))
    .concat(residsOdd[k].map((y, i) => ({x: residStart + residStep / 2 + i * residStep, y})))
    .sort((a, b) => a.x - b.x);
  const svg = Plot.plot({
    width: 3462, height: 1264,
    marginTop: 110, marginBottom: 147, marginLeft: 231, marginRight: 37,
    x: {domain: [2016.4, 2104.4]},
    y: {domain: [-500, 2000]},
    style: {fontFamily: "'DejaVu Sans', sans-serif", fontSize: "58px", color: "#000", background: "#fff", overflow: "visible"},
    marks: [
      Plot.axisX({ticks: xTicks, tickFormat: d => String(d), tickSize: 20, tickPadding: 16, strokeWidth: 3, label: null}),
      Plot.axisY({ticks: yTicks, tickFormat: fmtY, tickSize: 20, tickPadding: 16, strokeWidth: 3, label: null}),
      Plot.line(tr, {x: "x", y: "y", stroke: blue, strokeWidth: 7, strokeLinejoin: "round", strokeLinecap: "round"}),
      Plot.dot(rs, {x: "x", y: "y", r: 10, fill: "red", fillOpacity: 0.3, stroke: "red", strokeOpacity: 0.3, strokeWidth: 2}),
      Plot.frame({stroke: "#222", strokeWidth: 3}),
      Plot.text([name], {text: d => d, frameAnchor: "top", dy: -62, fontSize: 70, lineAnchor: "middle", fill: "#000"})
    ]
  });
  const wrap = document.createElement("div");
  wrap.className = "panel";
  wrap.appendChild(svg);
  const lg = document.createElement("div");
  lg.className = "legend";
  lg.style.top = (110 + 34) + "px";
  lg.style.left = legendSide[k] === "right" ? (3425 - 28 - 478) + "px" : (231 + 36) + "px";
  lg.innerHTML = `<div class="ln"></div><div class="tx" style="top:44px">${seriesNames[0]}</div><div class="dt"></div><div class="tx" style="top:136px">${seriesNames[1]}</div>`;
  wrap.appendChild(lg);
  charts.appendChild(wrap);
});

// The browser viewport may be shorter than the 5187px design height: fit the page into it.
const page = document.getElementById("page");
const vh = window.innerHeight || 5187;
const vw = window.innerWidth || 3462;
const sx = Math.min(1, vw / 3462);
const sy = Math.min(1, vh / 5187);
if (sx < 1 || sy < 1) page.style.transform = `scale(${sx}, ${sy})`;
</script>
</body></html>
